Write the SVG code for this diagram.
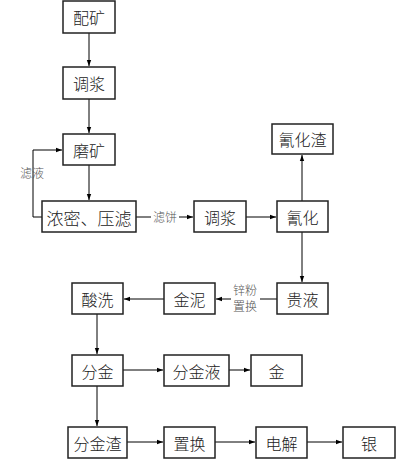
<svg xmlns="http://www.w3.org/2000/svg" width="397" height="460" viewBox="0 0 397 460">
<defs>
<marker id="ah" markerWidth="6" markerHeight="6" refX="6" refY="3" orient="auto" markerUnits="userSpaceOnUse"><path d="M0,0.8 L6,3 L0,5.2 Z" fill="#000"/></marker>
<style>
.b{fill:#fff;stroke:#222;stroke-width:1.5}
.t{font-family:"Noto Sans CJK SC",sans-serif;font-size:16px;font-weight:300;fill:#222;text-anchor:middle;dominant-baseline:central}
.l{font-family:"Noto Sans CJK SC",sans-serif;font-size:12px;font-weight:300;fill:#555;text-anchor:middle;dominant-baseline:central}
.c{fill:none;stroke:#000;stroke-width:1}
</style>
</defs>
<rect width="397" height="460" fill="#fff"/>
<g id="connectors">
<path class="c" d="M89,33 V66" marker-end="url(#ah)"/>
<path class="c" d="M89,99 V133" marker-end="url(#ah)"/>
<path class="c" d="M89,165 V200" marker-end="url(#ah)"/>
<path class="c" d="M42,217 H33 V150 H62" marker-end="url(#ah)"/>
<path class="c" d="M136,217 H151 M179,217 H193" marker-end="url(#ah)"/>
<path class="c" d="M246,217 H276" marker-end="url(#ah)"/>
<path class="c" d="M302,201 V155" marker-end="url(#ah)"/>
<path class="c" d="M302,232 V282" marker-end="url(#ah)"/>
<path class="c" d="M277,299 H260 M231,299 H216" marker-end="url(#ah)"/>
<path class="c" d="M164,299 H124" marker-end="url(#ah)"/>
<path class="c" d="M97,314 V354" marker-end="url(#ah)"/>
<path class="c" d="M123,370 H163" marker-end="url(#ah)"/>
<path class="c" d="M229,370 H250" marker-end="url(#ah)"/>
<path class="c" d="M97,386 V426" marker-end="url(#ah)"/>
<path class="c" d="M127,442 H163" marker-end="url(#ah)"/>
<path class="c" d="M215,442 H255" marker-end="url(#ah)"/>
<path class="c" d="M307,442 H342" marker-end="url(#ah)"/>
<text class="l" x="32" y="172">滤液</text>
<text class="l" x="165" y="216">滤饼</text>
<text class="l" x="245" y="289">锌粉</text>
<text class="l" x="245" y="305">置换</text>
</g>
<g id="peikuang"><rect class="b" x="63" y="1" width="52" height="32"/><text class="t" x="89" y="17">配矿</text></g>
<g id="tiaojiang1"><rect class="b" x="63" y="67" width="52" height="32"/><text class="t" x="89" y="83">调浆</text></g>
<g id="mokuang"><rect class="b" x="63" y="134" width="52" height="31"/><text class="t" x="89" y="150">磨矿</text></g>
<g id="nongmi"><rect class="b" x="42" y="201" width="94" height="31"/><text class="t" x="89" y="217" style="font-size:17px">浓密、压滤</text></g>
<g id="tiaojiang2"><rect class="b" x="194" y="201" width="52" height="31"/><text class="t" x="220" y="217">调浆</text></g>
<g id="qinghua"><rect class="b" x="277" y="201" width="51" height="31"/><text class="t" x="302.5" y="217">氰化</text></g>
<g id="qinghuazha"><rect class="b" x="272" y="124" width="61" height="30"/><text class="t" x="302.5" y="139">氰化渣</text></g>
<g id="guiye"><rect class="b" x="277" y="283" width="51" height="31"/><text class="t" x="302.5" y="299">贵液</text></g>
<g id="jinni"><rect class="b" x="164" y="283" width="51" height="31"/><text class="t" x="189.5" y="299">金泥</text></g>
<g id="suanxi"><rect class="b" x="72" y="283" width="51" height="31"/><text class="t" x="97.5" y="299">酸洗</text></g>
<g id="fenjin"><rect class="b" x="72" y="355" width="51" height="31"/><text class="t" x="97.5" y="371">分金</text></g>
<g id="fenjinye"><rect class="b" x="164" y="355" width="65" height="31"/><text class="t" x="196.5" y="371">分金液</text></g>
<g id="jin"><rect class="b" x="251" y="355" width="51" height="31"/><text class="t" x="276.5" y="371">金</text></g>
<g id="fenjinzha"><rect class="b" x="68" y="427" width="59" height="31"/><text class="t" x="97.5" y="443">分金渣</text></g>
<g id="zhihuan"><rect class="b" x="164" y="427" width="51" height="31"/><text class="t" x="189.5" y="443">置换</text></g>
<g id="dianjie"><rect class="b" x="256" y="427" width="51" height="31"/><text class="t" x="281.5" y="443">电解</text></g>
<g id="yin"><rect class="b" x="343" y="427" width="52" height="31"/><text class="t" x="369" y="443">银</text></g>
</svg>
